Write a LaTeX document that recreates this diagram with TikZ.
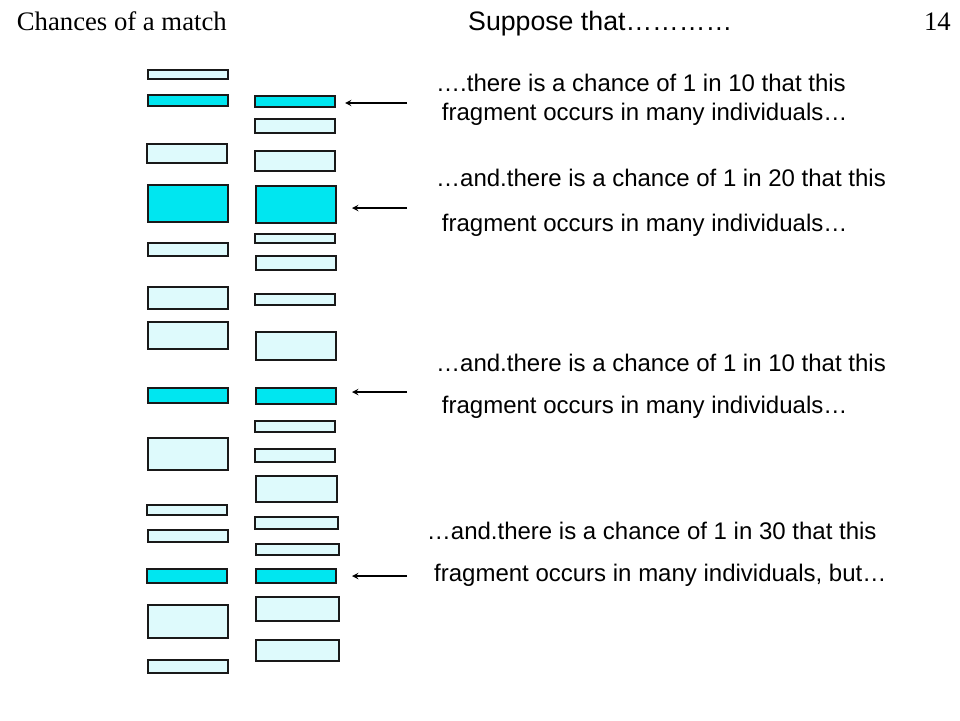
\documentclass[tikz,border=0pt]{standalone}
\usepackage{fontspec}
\setmainfont{Liberation Serif}
\setsansfont{Liberation Sans}
\definecolor{bandcyan}{RGB}{0,230,240}
\definecolor{bandpale}{RGB}{222,250,252}
\tikzset{
    band/.style={draw=black!90, line width=2pt, fill=bandpale, inner sep=0pt, outer sep=0pt, minimum width=80pt},
    hit/.style={band, fill=bandcyan},
    note/.style={anchor=base west, inner sep=0pt, font=\sffamily\fontsize{24}{28}\selectfont},
}
\begin{document}
\begin{tikzpicture}[>=stealth, x=1pt, y=-1pt]
    \useasboundingbox[fill=white] (0, 0) rectangle (960, 720);

    % Heading
    \node[anchor=base west, inner sep=0pt, font=\rmfamily\fontsize{26.7}{30}\selectfont] (title) at (16.7, 30) {Chances of a match};
    \node[anchor=base west, inner sep=0pt, font=\sffamily\fontsize{26.7}{30}\selectfont] (suppose) at (468, 30) {Suppose that…………};
    \node[anchor=base east, inner sep=0pt, font=\rmfamily\fontsize{26.7}{30}\selectfont] (page) at (951, 30) {14};

    % Bands of the first lane
    \node[band, minimum height=9.5] (l1) at (187.5, 74.3) {};
    \node[hit, minimum height=11.2] (l2) at (187.5, 100.2) {};
    \node[band, minimum height=19.5] (l3) at (187, 153.3) {};
    \node[hit, minimum height=36.8] (l4) at (187.5, 203.7) {};
    \node[band, minimum height=13.5] (l5) at (187.5, 249.7) {};
    \node[band, minimum height=22] (l6) at (188, 298) {};
    \node[band, minimum height=26.8] (l7) at (188, 335.3) {};
    \node[hit, minimum height=15.5] (l8) at (187.5, 395.3) {};
    \node[band, minimum height=32.5] (l9) at (187.5, 454.2) {};
    \node[band, minimum height=10.2] (l10) at (187, 510.3) {};
    \node[band, minimum height=12.5] (l11) at (187.5, 535.8) {};
    \node[hit, minimum height=14] (l12) at (187, 575.5) {};
    \node[band, minimum height=32.8] (l13) at (188, 621.7) {};
    \node[band, minimum height=13] (l14) at (188, 666) {};

    % Bands of the second lane
    \node[hit, minimum height=11.5] (r1) at (295, 101.3) {};
    \node[band, minimum height=14.5] (r2) at (294.5, 125.8) {};
    \node[band, minimum height=19.5] (r3) at (294.5, 161) {};
    \node[hit, minimum height=37] (r4) at (296, 204.5) {};
    \node[band, minimum height=9] (r5) at (295, 238.7) {};
    \node[band, minimum height=14.5] (r6) at (295.5, 263.2) {};
    \node[band, minimum height=11.2] (r7) at (295, 299.2) {};
    \node[band, minimum height=27.8] (r8) at (295.5, 345.8) {};
    \node[hit, minimum height=16.2] (r9) at (296, 395.7) {};
    \node[band, minimum height=10.8] (r10) at (295, 426.3) {};
    \node[band, minimum height=13] (r11) at (295, 455.5) {};
    \node[band, minimum height=26.5, minimum width=81] (r12) at (296, 489.2) {};
    \node[band, minimum height=11.8, minimum width=83] (r13) at (296, 523.2) {};
    \node[band, minimum height=11.2, minimum width=83] (r14) at (297, 549.8) {};
    \node[hit, minimum height=13.8] (r15) at (296, 576.2) {};
    \node[band, minimum height=24.5, minimum width=83] (r16) at (297, 609.2) {};
    \node[band, minimum height=21, minimum width=83] (r17) at (297.5, 650) {};

    % Notes beside the lanes
    \node[note] (n1a) at (436, 91.7) {….there is a chance of 1 in 10 that this};
    \node[note] (n1b) at (441.7, 120) {fragment occurs in many individuals…};
    \node[note] (n2a) at (436, 186.7) {…and.there is a chance of 1 in 20 that this};
    \node[note] (n2b) at (441.7, 231) {fragment occurs in many individuals…};
    \node[note] (n3a) at (436, 371.7) {…and.there is a chance of 1 in 10 that this};
    \node[note] (n3b) at (441.7, 413.3) {fragment occurs in many individuals…};
    \node[note] (n4a) at (426.7, 539.3) {…and.there is a chance of 1 in 30 that this};
    \node[note] (n4b) at (434, 581.7) {fragment occurs in many individuals, but…};

    % Arrows to the matching bands
    \coordinate (a1) at (407, 103);
    \coordinate (a2) at (407, 208);
    \coordinate (a3) at (407, 392);
    \coordinate (a4) at (407, 576);
    \draw[->, line width=1.8pt, shorten >=10pt] (a1) -- (a1 -| r1.east);
    \draw[->, line width=1.8pt, shorten >=16pt] (a2) -- (a2 -| r4.east);
    \draw[->, line width=1.8pt, shorten >=16pt] (a3) -- (a3 -| r9.east);
    \draw[->, line width=1.8pt, shorten >=16pt] (a4) -- (a4 -| r15.east);
\end{tikzpicture}
\end{document}
